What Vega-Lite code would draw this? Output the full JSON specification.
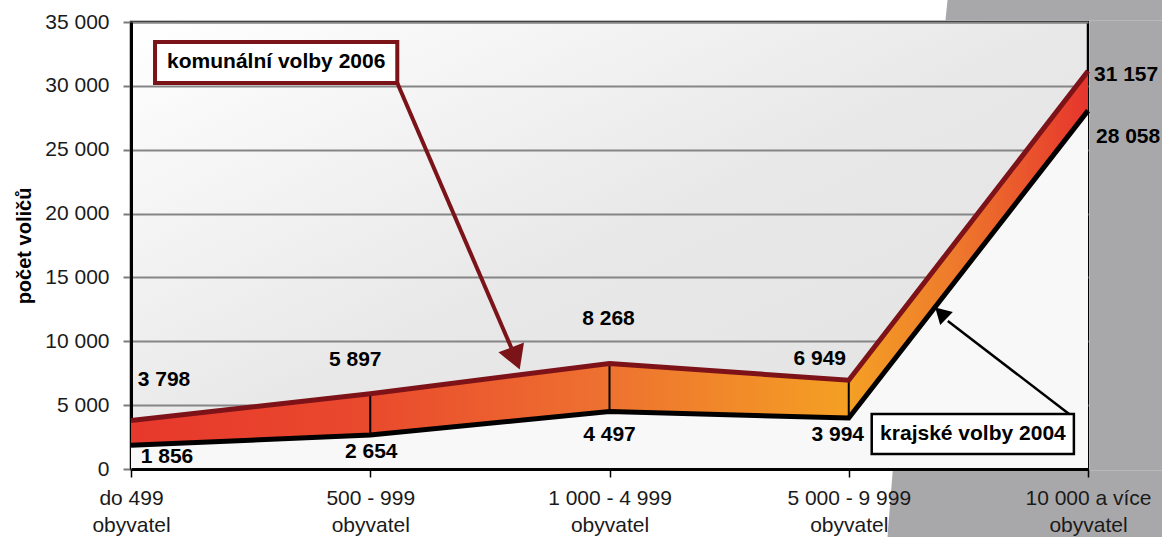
{
  "$schema": "https://vega.github.io/schema/vega-lite/v6.json",
  "width": 957,
  "height": 447,
  "autosize": {"type": "none"},
  "padding": {"left": 131, "top": 22, "right": 74, "bottom": 68},
  "datasets": {
    "voters": [
      {"i": 0, "cat": "do 499 obyvatel", "k2006": 3798, "k2004": 1856},
      {"i": 1, "cat": "500 - 999 obyvatel", "k2006": 5897, "k2004": 2654},
      {"i": 2, "cat": "1 000 - 4 999 obyvatel", "k2006": 8268, "k2004": 4497},
      {"i": 3, "cat": "5 000 - 9 999 obyvatel", "k2006": 6949, "k2004": 3994},
      {"i": 4, "cat": "10 000 a více obyvatel", "k2006": 31157, "k2004": 28058}
    ],
    "backdrop": [
      {"part": "top", "gy": 35100, "gx": 3.404, "gx2": 4.6},
      {"part": "top", "gy": 38000, "gx": 3.42, "gx2": 4.6},
      {"part": "right", "gy": -90, "gx": 4.007, "gx2": 4.6},
      {"part": "right", "gy": 35100, "gx": 4.007, "gx2": 4.6},
      {"part": "bottom", "gy": -6500, "gx": 3.157, "gx2": 4.6},
      {"part": "bottom", "gy": -90, "gx": 3.184, "gx2": 4.6}
    ],
    "one": [{"note": 1}]
  },
  "config": {
    "font": "Liberation Sans",
    "locale": {"number": {"decimal": ",", "thousands": " ", "grouping": [3], "currency": ["", " Kč"]}},
    "view": {
      "stroke": "#000000",
      "strokeWidth": 2.5,
      "fill": {
        "gradient": "linear", "x1": 0, "y1": 0, "x2": 1, "y2": 1,
        "stops": [
          {"offset": 0, "color": "#ffffff"},
          {"offset": 0.5, "color": "#e8e8e8"},
          {"offset": 1, "color": "#e2e2e2"}
        ]
      }
    }
  },
  "layer": [
    {
      "data": {"name": "backdrop"},
      "mark": {"type": "area", "orient": "horizontal", "color": "#a8a8aa", "clip": false},
      "encoding": {
        "y": {"field": "gy", "type": "quantitative"},
        "x": {"field": "gx", "type": "quantitative"},
        "x2": {"field": "gx2"},
        "detail": {"field": "part"}
      }
    },
    {
      "data": {"name": "voters"},
      "mark": {"type": "area", "color": "#f8f8f8"},
      "encoding": {
        "x": {
          "field": "i", "type": "quantitative",
          "scale": {"domain": [0, 4], "nice": false, "zero": false},
          "axis": {
            "title": null, "zindex": 1,
            "values": [0, 1, 2, 3, 4],
            "labelExpr": "datum.value == 0 ? ['do 499', 'obyvatel'] : datum.value == 1 ? ['500 - 999', 'obyvatel'] : datum.value == 2 ? ['1 000 - 4 999', 'obyvatel'] : datum.value == 3 ? ['5 000 - 9 999', 'obyvatel'] : ['10 000 a více', 'obyvatel']",
            "labelFontSize": 21, "labelColor": "#1a1a1a", "labelLineHeight": 27,
            "labelPadding": 10, "labelFlush": false, "labelOverlap": false,
            "tickSize": 8, "tickWidth": 1.5, "tickColor": "#000000",
            "domainColor": "#000000", "domainWidth": 3, "grid": false
          }
        },
        "y": {
          "field": "k2004", "type": "quantitative",
          "scale": {"domain": [0, 35000], "nice": false, "zero": true},
          "axis": {
            "title": "počet voličů", "titleFontSize": 20, "titleFontWeight": "bold",
            "titleColor": "#000000", "titlePadding": 10,
            "values": [0, 5000, 10000, 15000, 20000, 25000, 30000, 35000],
            "format": ",d", "labelFontSize": 21, "labelColor": "#1a1a1a", "labelPadding": 14,
            "tickSize": 8, "tickWidth": 2, "tickColor": "#7a7a7a",
            "grid": true, "gridColor": "#858585", "gridWidth": 2,
            "domainColor": "#000000", "domainWidth": 3, "zindex": 0
          }
        },
        "y2": {"datum": 0}
      }
    },
    {
      "data": {"name": "voters"},
      "mark": {
        "type": "area",
        "color": {
          "gradient": "linear", "x1": 0, "y1": 0, "x2": 1, "y2": 0,
          "stops": [
            {"offset": 0, "color": "#e7382c"},
            {"offset": 0.25, "color": "#e94a2d"},
            {"offset": 0.5, "color": "#ee7230"},
            {"offset": 0.75, "color": "#f4a024"},
            {"offset": 0.86, "color": "#ee7a2c"},
            {"offset": 1, "color": "#e6352d"}
          ]
        }
      },
      "encoding": {
        "x": {"field": "i", "type": "quantitative"},
        "y": {"field": "k2006", "type": "quantitative"},
        "y2": {"field": "k2004"}
      }
    },
    {
      "data": {"name": "voters"},
      "transform": [{"filter": "datum.i >= 1 && datum.i <= 3"}],
      "mark": {"type": "rule", "color": "#000000", "strokeWidth": 2},
      "encoding": {
        "x": {"field": "i", "type": "quantitative"},
        "y": {"field": "k2004", "type": "quantitative"},
        "y2": {"field": "k2006"}
      }
    },
    {
      "data": {"name": "voters"},
      "mark": {"type": "line", "color": "#7d1318", "strokeWidth": 5},
      "encoding": {
        "x": {"field": "i", "type": "quantitative"},
        "y": {"field": "k2006", "type": "quantitative"}
      }
    },
    {
      "data": {"name": "voters"},
      "mark": {"type": "line", "color": "#000000", "strokeWidth": 5},
      "encoding": {
        "x": {"field": "i", "type": "quantitative"},
        "y": {"field": "k2004", "type": "quantitative"}
      }
    },
    {
      "data": {"name": "voters"},
      "transform": [{"filter": "datum.i == 0"}],
      "mark": {"type": "text", "fontSize": 21, "fontWeight": "bold", "color": "#000000", "baseline": "middle", "dx": 33, "dy": -40},
      "encoding": {"x": {"field": "i", "type": "quantitative"}, "y": {"field": "k2006", "type": "quantitative"}, "text": {"field": "k2006", "type": "quantitative", "format": ",d"}}
    },
    {
      "data": {"name": "voters"},
      "transform": [{"filter": "datum.i == 1"}],
      "mark": {"type": "text", "fontSize": 21, "fontWeight": "bold", "color": "#000000", "baseline": "middle", "dx": -15, "dy": -34},
      "encoding": {"x": {"field": "i", "type": "quantitative"}, "y": {"field": "k2006", "type": "quantitative"}, "text": {"field": "k2006", "type": "quantitative", "format": ",d"}}
    },
    {
      "data": {"name": "voters"},
      "transform": [{"filter": "datum.i == 2"}],
      "mark": {"type": "text", "fontSize": 21, "fontWeight": "bold", "color": "#000000", "baseline": "middle", "dx": -1, "dy": -44},
      "encoding": {"x": {"field": "i", "type": "quantitative"}, "y": {"field": "k2006", "type": "quantitative"}, "text": {"field": "k2006", "type": "quantitative", "format": ",d"}}
    },
    {
      "data": {"name": "voters"},
      "transform": [{"filter": "datum.i == 3"}],
      "mark": {"type": "text", "fontSize": 21, "fontWeight": "bold", "color": "#000000", "baseline": "middle", "dx": -29, "dy": -21},
      "encoding": {"x": {"field": "i", "type": "quantitative"}, "y": {"field": "k2006", "type": "quantitative"}, "text": {"field": "k2006", "type": "quantitative", "format": ",d"}}
    },
    {
      "data": {"name": "voters"},
      "transform": [{"filter": "datum.i == 4"}],
      "mark": {"type": "text", "fontSize": 21, "fontWeight": "bold", "color": "#000000", "baseline": "middle", "align": "left", "dx": 6, "dy": 4},
      "encoding": {"x": {"field": "i", "type": "quantitative"}, "y": {"field": "k2006", "type": "quantitative"}, "text": {"field": "k2006", "type": "quantitative", "format": ",d"}}
    },
    {
      "data": {"name": "voters"},
      "transform": [{"filter": "datum.i == 0"}],
      "mark": {"type": "text", "fontSize": 21, "fontWeight": "bold", "color": "#000000", "baseline": "middle", "dx": 36, "dy": 12},
      "encoding": {"x": {"field": "i", "type": "quantitative"}, "y": {"field": "k2004", "type": "quantitative"}, "text": {"field": "k2004", "type": "quantitative", "format": ",d"}}
    },
    {
      "data": {"name": "voters"},
      "transform": [{"filter": "datum.i == 1"}],
      "mark": {"type": "text", "fontSize": 21, "fontWeight": "bold", "color": "#000000", "baseline": "middle", "dx": 1, "dy": 17},
      "encoding": {"x": {"field": "i", "type": "quantitative"}, "y": {"field": "k2004", "type": "quantitative"}, "text": {"field": "k2004", "type": "quantitative", "format": ",d"}}
    },
    {
      "data": {"name": "voters"},
      "transform": [{"filter": "datum.i == 2"}],
      "mark": {"type": "text", "fontSize": 21, "fontWeight": "bold", "color": "#000000", "baseline": "middle", "dx": 0, "dy": 23},
      "encoding": {"x": {"field": "i", "type": "quantitative"}, "y": {"field": "k2004", "type": "quantitative"}, "text": {"field": "k2004", "type": "quantitative", "format": ",d"}}
    },
    {
      "data": {"name": "voters"},
      "transform": [{"filter": "datum.i == 3"}],
      "mark": {"type": "text", "fontSize": 21, "fontWeight": "bold", "color": "#000000", "baseline": "middle", "dx": -11, "dy": 17},
      "encoding": {"x": {"field": "i", "type": "quantitative"}, "y": {"field": "k2004", "type": "quantitative"}, "text": {"field": "k2004", "type": "quantitative", "format": ",d"}}
    },
    {
      "data": {"name": "voters"},
      "transform": [{"filter": "datum.i == 4"}],
      "mark": {"type": "text", "fontSize": 21, "fontWeight": "bold", "color": "#000000", "baseline": "middle", "align": "left", "dx": 8, "dy": 26},
      "encoding": {"x": {"field": "i", "type": "quantitative"}, "y": {"field": "k2004", "type": "quantitative"}, "text": {"field": "k2004", "type": "quantitative", "format": ",d"}}
    },
    {
      "data": {"name": "one"},
      "mark": {"type": "rule", "color": "#7b1419", "strokeWidth": 4},
      "encoding": {
        "x": {"datum": 1.113, "type": "quantitative"}, "y": {"datum": 30224, "type": "quantitative"},
        "x2": {"datum": 1.59}, "y2": {"datum": 9474}
      }
    },
    {
      "data": {"name": "one"},
      "mark": {"type": "point", "shape": "triangle-down", "filled": true, "color": "#7b1419", "size": 750, "angle": -21, "opacity": 1},
      "encoding": {"x": {"datum": 1.607, "type": "quantitative"}, "y": {"datum": 8650, "type": "quantitative"}}
    },
    {
      "data": {"name": "one"},
      "mark": {"type": "rect", "fill": "#ffffff", "stroke": "#7b1419", "strokeWidth": 4},
      "encoding": {
        "x": {"datum": 0.1004, "type": "quantitative"}, "x2": {"datum": 1.113},
        "y": {"datum": 33434, "type": "quantitative"}, "y2": {"datum": 30224}
      }
    },
    {
      "data": {"name": "one"},
      "mark": {"type": "text", "text": "komunální volby 2006", "fontSize": 21, "fontWeight": "bold", "color": "#000000", "baseline": "middle", "align": "center"},
      "encoding": {"x": {"datum": 0.607, "type": "quantitative"}, "y": {"datum": 31868, "type": "quantitative"}}
    },
    {
      "data": {"name": "one"},
      "mark": {"type": "rule", "color": "#000000", "strokeWidth": 2.5},
      "encoding": {
        "x": {"datum": 3.921, "type": "quantitative"}, "y": {"datum": 4307, "type": "quantitative"},
        "x2": {"datum": 3.414}, "y2": {"datum": 11588}
      }
    },
    {
      "data": {"name": "one"},
      "mark": {"type": "point", "shape": "triangle-up", "filled": true, "color": "#000000", "size": 330, "angle": -46, "opacity": 1},
      "encoding": {"x": {"datum": 3.385, "type": "quantitative"}, "y": {"datum": 12215, "type": "quantitative"}}
    },
    {
      "data": {"name": "one"},
      "mark": {"type": "rect", "fill": "#ffffff", "stroke": "#000000", "strokeWidth": 2.5},
      "encoding": {
        "x": {"datum": 3.096, "type": "quantitative"}, "x2": {"datum": 3.941},
        "y": {"datum": 4307, "type": "quantitative"}, "y2": {"datum": 1175}
      }
    },
    {
      "data": {"name": "one"},
      "mark": {"type": "text", "text": "krajské volby 2004", "fontSize": 21, "fontWeight": "bold", "color": "#000000", "baseline": "middle", "align": "center"},
      "encoding": {"x": {"datum": 3.519, "type": "quantitative"}, "y": {"datum": 2741, "type": "quantitative"}}
    }
  ]
}
